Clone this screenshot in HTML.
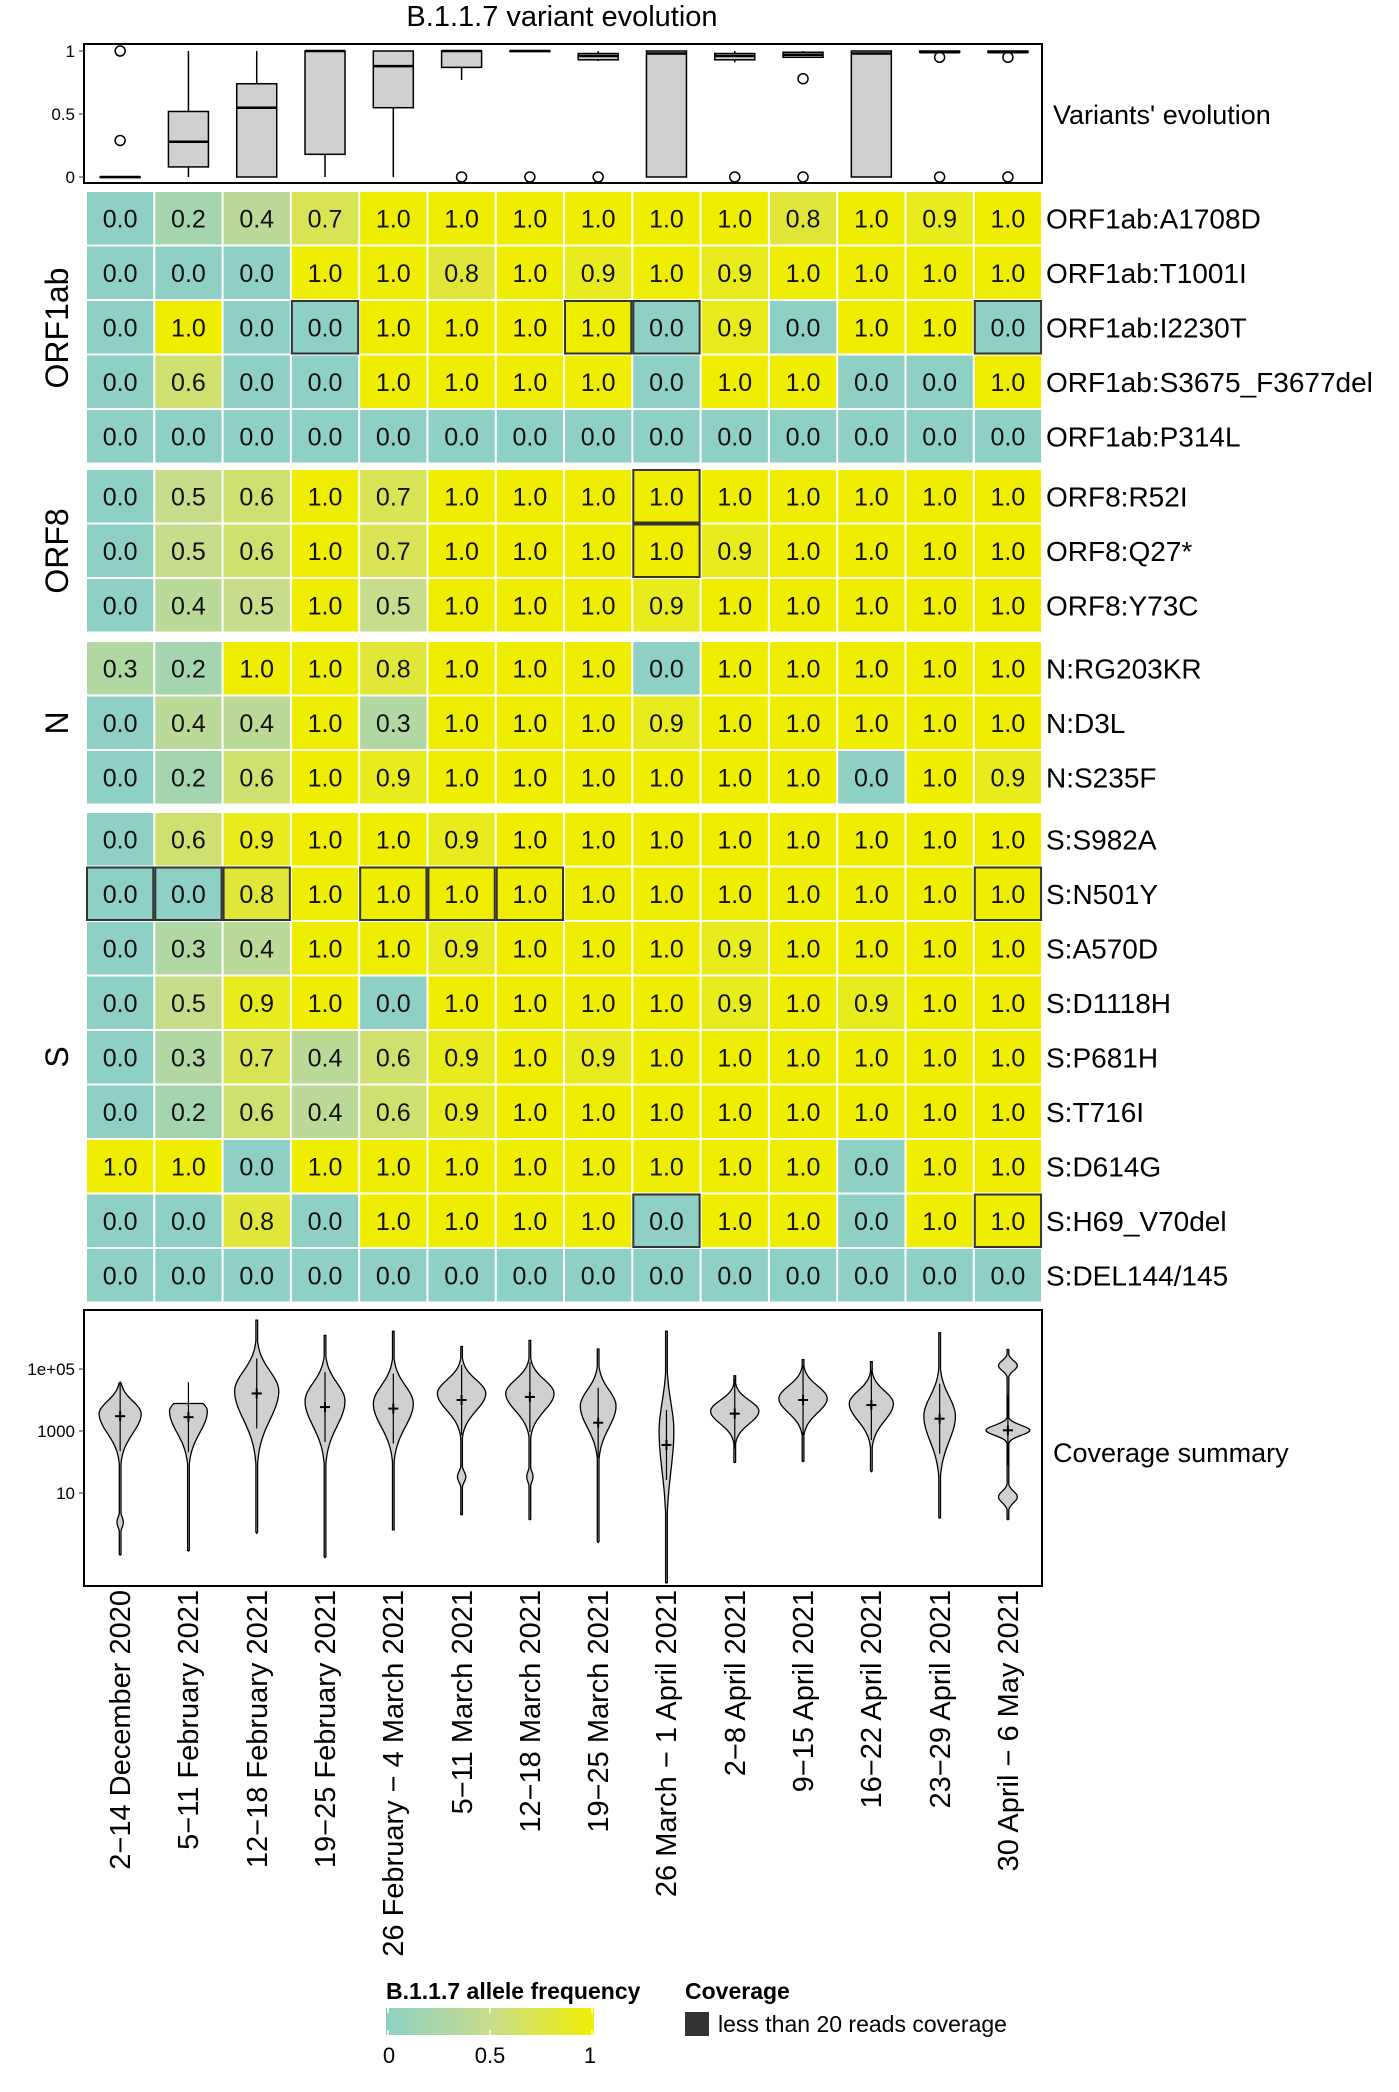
<!DOCTYPE html>
<html><head><meta charset="utf-8"><style>
body{margin:0;background:#fff;}
svg{display:block;font-family:"Liberation Sans",Arial,sans-serif;}
</style></head><body>
<svg id="s" width="1399" height="2092" viewBox="0 0 1399 2092" xmlns="http://www.w3.org/2000/svg">
<rect width="1399" height="2092" fill="#fff"/>
<text x="562" y="26" font-size="29" text-anchor="middle">B.1.1.7 variant evolution</text>
<g id="box"></g>
<g id="heat"></g>
<g id="vio"></g>
<text x="1053" y="124" font-size="27">Variants' evolution</text>
<text x="1053" y="1462" font-size="27">Coverage summary</text>
<g font-size="32">
<text transform="translate(68,328) rotate(-90)" text-anchor="middle">ORF1ab</text>
<text transform="translate(68,551) rotate(-90)" text-anchor="middle">ORF8</text>
<text transform="translate(68,723) rotate(-90)" text-anchor="middle">N</text>
<text transform="translate(68,1057) rotate(-90)" text-anchor="middle">S</text>
</g>
<g font-size="29" id="xl">
<text transform="translate(130,1590) rotate(-90)" text-anchor="end">2−14 December 2020</text>
<text transform="translate(198,1590) rotate(-90)" text-anchor="end">5−11 February 2021</text>
<text transform="translate(267,1590) rotate(-90)" text-anchor="end">12−18 February 2021</text>
<text transform="translate(335,1590) rotate(-90)" text-anchor="end">19−25 February 2021</text>
<text transform="translate(403,1590) rotate(-90)" text-anchor="end">26 February − 4 March 2021</text>
<text transform="translate(472,1590) rotate(-90)" text-anchor="end">5−11 March 2021</text>
<text transform="translate(540,1590) rotate(-90)" text-anchor="end">12−18 March 2021</text>
<text transform="translate(608,1590) rotate(-90)" text-anchor="end">19−25 March 2021</text>
<text transform="translate(676,1590) rotate(-90)" text-anchor="end">26 March −  1 April 2021</text>
<text transform="translate(745,1590) rotate(-90)" text-anchor="end">2−8 April 2021</text>
<text transform="translate(813,1590) rotate(-90)" text-anchor="end">9−15 April 2021</text>
<text transform="translate(881,1590) rotate(-90)" text-anchor="end">16−22 April 2021</text>
<text transform="translate(950,1590) rotate(-90)" text-anchor="end">23−29 April 2021</text>
<text transform="translate(1018,1590) rotate(-90)" text-anchor="end">30 April − 6 May 2021</text>
</g>
<defs><linearGradient id="g"><stop offset="0" stop-color="#8ed0c4"/><stop offset="0.5" stop-color="#c8dd8c"/><stop offset="1" stop-color="#f0ef00"/></linearGradient></defs>
<g transform="translate(-2,-7)">
<text x="388" y="2006" font-size="23" font-weight="bold">B.1.1.7 allele frequency</text>
<rect x="388" y="2015" width="208" height="27" fill="url(#g)"/>
<g stroke="#fff" stroke-width="1.5"><line x1="390" y1="2015" x2="390" y2="2020"/><line x1="390" y1="2037" x2="390" y2="2042"/><line x1="492" y1="2015" x2="492" y2="2020"/><line x1="492" y1="2037" x2="492" y2="2042"/><line x1="594" y1="2015" x2="594" y2="2020"/><line x1="594" y1="2037" x2="594" y2="2042"/></g>
<g font-size="22" text-anchor="middle"><text x="391" y="2070">0</text><text x="492" y="2070">0.5</text><text x="592" y="2070">1</text></g>
<text x="687" y="2006" font-size="23" font-weight="bold">Coverage</text>
<rect x="687" y="2019" width="24" height="24" fill="#333"/>
<text x="720" y="2039" font-size="23">less than 20 reads coverage</text>
</g>
</svg>
<script>
var NS="http://www.w3.org/2000/svg";
function el(p,t,a,txt){var e=document.createElementNS(NS,t);for(var k in a)e.setAttribute(k,a[k]);if(txt!=null)e.textContent=txt;p.appendChild(e);return e;}
var X0=86,CW=68.29;function cx(i){return X0+CW*(i+0.5);}
var B=document.getElementById('box');
el(B,'rect',{x:84,y:44,width:958,height:139,fill:'none',stroke:'#000','stroke-width':2});
function Y(v){return 177-126*v;}
[[1,'1'],[0.5,'0.5'],[0,'0']].forEach(function(t){el(B,'line',{x1:79,y1:Y(t[0]),x2:84,y2:Y(t[0]),stroke:'#333'});el(B,'text',{x:75,y:Y(t[0])+6,'font-size':17,'text-anchor':'end'},t[1]);});
var bx=[[0,0,0,0,0,[1,0.29]],[0,0.08,0.28,0.52,1,[]],[0,0,0.55,0.74,1,[]],[0,0.18,1,1,1,[]],[0,0.55,0.88,1,1,[]],[0.77,0.87,1,1,1,[0]],[1,1,1,1,1,[0]],[0.92,0.93,0.96,0.98,1,[0]],[0,0,0.98,1,1,[]],[0.91,0.93,0.96,0.98,1,[0]],[0.95,0.95,0.97,0.99,1,[0.78,0]],[0,0,0.98,1,1,[]],[0.99,0.99,0.99,1,1,[0.95,0]],[0.99,0.99,0.99,1,1,[0.95,0]]];
bx.forEach(function(b,i){var c=cx(i),w=20;
el(B,'line',{x1:c,y1:Y(b[0]),x2:c,y2:Y(b[1]),stroke:'#000','stroke-width':1.5});
el(B,'line',{x1:c,y1:Y(b[3]),x2:c,y2:Y(b[4]),stroke:'#000','stroke-width':1.5});
el(B,'rect',{x:c-w,y:Y(b[3]),width:2*w,height:Math.max(Y(b[1])-Y(b[3]),0.5),fill:'#d0d0d0',stroke:'#000','stroke-width':1.5});
el(B,'line',{x1:c-w,y1:Y(b[2]),x2:c+w,y2:Y(b[2]),stroke:'#000','stroke-width':2.5});
b[5].forEach(function(o){el(B,'circle',{cx:c,cy:Y(o),r:5,fill:'none',stroke:'#000','stroke-width':1.5});});});
var H=document.getElementById('heat');
var groups=[[191,[['ORF1ab:A1708D','0.0 0.2 0.4 0.7 1.0 1.0 1.0 1.0 1.0 1.0 0.8 1.0 0.9 1.0',[]],['ORF1ab:T1001I','0.0 0.0 0.0 1.0 1.0 0.8 1.0 0.9 1.0 0.9 1.0 1.0 1.0 1.0',[]],['ORF1ab:I2230T','0.0 1.0 0.0 0.0 1.0 1.0 1.0 1.0 0.0 0.9 0.0 1.0 1.0 0.0',[3,7,8,13]],['ORF1ab:S3675_F3677del','0.0 0.6 0.0 0.0 1.0 1.0 1.0 1.0 0.0 1.0 1.0 0.0 0.0 1.0',[]],['ORF1ab:P314L','0.0 0.0 0.0 0.0 0.0 0.0 0.0 0.0 0.0 0.0 0.0 0.0 0.0 0.0',[]]]],
[469,[['ORF8:R52I','0.0 0.5 0.6 1.0 0.7 1.0 1.0 1.0 1.0 1.0 1.0 1.0 1.0 1.0',[8]],['ORF8:Q27*','0.0 0.5 0.6 1.0 0.7 1.0 1.0 1.0 1.0 0.9 1.0 1.0 1.0 1.0',[8]],['ORF8:Y73C','0.0 0.4 0.5 1.0 0.5 1.0 1.0 1.0 0.9 1.0 1.0 1.0 1.0 1.0',[]]]],
[641,[['N:RG203KR','0.3 0.2 1.0 1.0 0.8 1.0 1.0 1.0 0.0 1.0 1.0 1.0 1.0 1.0',[]],['N:D3L','0.0 0.4 0.4 1.0 0.3 1.0 1.0 1.0 0.9 1.0 1.0 1.0 1.0 1.0',[]],['N:S235F','0.0 0.2 0.6 1.0 0.9 1.0 1.0 1.0 1.0 1.0 1.0 0.0 1.0 0.9',[]]]],
[812,[['S:S982A','0.0 0.6 0.9 1.0 1.0 0.9 1.0 1.0 1.0 1.0 1.0 1.0 1.0 1.0',[]],['S:N501Y','0.0 0.0 0.8 1.0 1.0 1.0 1.0 1.0 1.0 1.0 1.0 1.0 1.0 1.0',[0,1,2,4,5,6,13]],['S:A570D','0.0 0.3 0.4 1.0 1.0 0.9 1.0 1.0 1.0 0.9 1.0 1.0 1.0 1.0',[]],['S:D1118H','0.0 0.5 0.9 1.0 0.0 1.0 1.0 1.0 1.0 0.9 1.0 0.9 1.0 1.0',[]],['S:P681H','0.0 0.3 0.7 0.4 0.6 0.9 1.0 0.9 1.0 1.0 1.0 1.0 1.0 1.0',[]],['S:T716I','0.0 0.2 0.6 0.4 0.6 0.9 1.0 1.0 1.0 1.0 1.0 1.0 1.0 1.0',[]],['S:D614G','1.0 1.0 0.0 1.0 1.0 1.0 1.0 1.0 1.0 1.0 1.0 0.0 1.0 1.0',[]],['S:H69_V70del','0.0 0.0 0.8 0.0 1.0 1.0 1.0 1.0 0.0 1.0 1.0 0.0 1.0 1.0',[8,13]],['S:DEL144/145','0.0 0.0 0.0 0.0 0.0 0.0 0.0 0.0 0.0 0.0 0.0 0.0 0.0 0.0',[]]]]];
var A=[142,208,196],M=[200,221,140],Z=[240,238,0];
function col(v){var a,b,t;if(v<0.5){a=A;b=M;t=v/0.5;}else{a=M;b=Z;t=(v-0.5)/0.5;}return 'rgb('+[0,1,2].map(function(k){return Math.round(a[k]+(b[k]-a[k])*t);}).join(',')+')';}
var RH=54.5;
groups.forEach(function(g){g[1].forEach(function(r,j){var y=g[0]+RH*j;var vals=r[1].split(' ');
vals.forEach(function(v,i){var x=X0+CW*i;el(H,'rect',{x:x+1,y:y+1,width:CW-2,height:RH-2,fill:col(parseFloat(v))});
el(H,'text',{x:x+CW/2,y:y+RH/2+9,'font-size':25,'text-anchor':'middle',fill:'#111'},v);});
r[2].forEach(function(i){el(H,'rect',{x:X0+CW*i+1,y:y+1,width:CW-2,height:RH-2,fill:'none',stroke:'#333','stroke-width':2});});
el(H,'text',{x:1046,y:y+RH/2+10,'font-size':28},r[0]);});});
var V=document.getElementById('vio');
el(V,'rect',{x:84,y:1310,width:958,height:276,fill:'none',stroke:'#000','stroke-width':2});
[[1369,'1e+05'],[1431,'1000'],[1493,'10']].forEach(function(t){el(V,'line',{x1:79,y1:t[0],x2:84,y2:t[0],stroke:'#333'});el(V,'text',{x:75,y:t[0]+6,'font-size':17,'text-anchor':'end'},t[1]);});
function d(v){return 1300+v/1.98;}
var vi=[[165,505,[[225,20,35,55],[440,3,15,15]],230],[205,497,[[220,18,30,60]],232],[40,462,[[180,21,55,80]],185],[70,510,[[200,19,50,70]],212],[62,455,[[205,19,50,65]],215],[92,425,[[185,23,38,48],[350,4,15,15]],198],[80,435,[[185,23,38,48],[350,3,15,15]],192],[97,480,[[210,17,45,60]],243],[62,560,[[260,7,80,110]],287],[150,322,[[220,23,30,35]],225],[118,320,[[195,23,35,40]],198],[122,340,[[205,21,35,48]],208],[65,432,[[230,15,55,70]],235],[98,435,[[130,9,14,14],[258,21,14,14],[390,9,16,16]],258]];
vi.forEach(function(v,i){var c=cx(i),top=v[0],bot=v[1],L=[],R=[];
for(var yy=top;yy<=bot;yy+=3){var w=0.8;v[2].forEach(function(p){var s=yy<p[0]?p[2]:p[3];w=Math.max(w,p[1]*Math.exp(-Math.pow((yy-p[0])/s,2)));});
var wo=w*1.05;L.push((c-wo).toFixed(1)+','+d(yy).toFixed(1));R.unshift((c+wo).toFixed(1)+','+d(yy).toFixed(1));}
el(V,'path',{d:'M'+c+','+d(top)+' L'+L.join(' L')+' L'+c+','+d(bot)+' L'+R.join(' L')+'Z',fill:'#d0d0d0',stroke:'#000','stroke-width':1.3});
var m=d(v[3]);el(V,'line',{x1:c,y1:m-35,x2:c,y2:m+35,stroke:'#000','stroke-width':1.2});
el(V,'line',{x1:c-5,y1:m,x2:c+5,y2:m,stroke:'#000','stroke-width':2});el(V,'line',{x1:c,y1:m-5,x2:c,y2:m+5,stroke:'#000','stroke-width':2});});
</script>
</body></html>
